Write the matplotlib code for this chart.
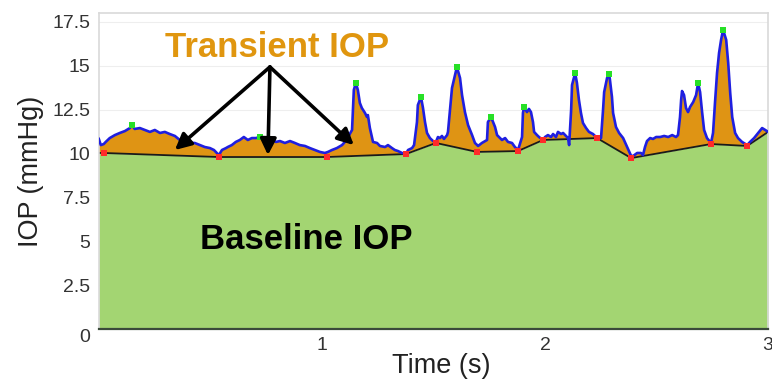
import numpy as np
import matplotlib
matplotlib.use("Agg")
import matplotlib.pyplot as plt

plt.rcParams["font.family"] = ["Liberation Sans", "DejaVu Sans"]

# ---------------------------------------------------------------- data
# IOP trace (mmHg) over 3 s
time_s = [
    0.000, 0.009, 0.022, 0.031, 0.049, 0.072, 0.094, 0.117, 0.139, 0.148,
    0.161, 0.184, 0.206, 0.229, 0.251, 0.274, 0.296, 0.318, 0.341, 0.363,
    0.386, 0.408, 0.430, 0.453, 0.475, 0.498, 0.516, 0.538, 0.552, 0.570,
    0.578, 0.596, 0.614, 0.632, 0.650, 0.668, 0.686, 0.704, 0.722, 0.740,
    0.758, 0.776, 0.794, 0.812, 0.834, 0.857, 0.879, 0.901, 0.924, 0.946,
    0.969, 0.991, 1.013, 1.027, 1.045, 1.067, 1.090, 1.103, 1.117, 1.135,
    1.139, 1.143, 1.152, 1.161, 1.170, 1.179, 1.193, 1.202, 1.206, 1.215,
    1.229, 1.247, 1.260, 1.283, 1.296, 1.314, 1.327, 1.341, 1.359, 1.377,
    1.386, 1.404, 1.413, 1.426, 1.430, 1.444, 1.453, 1.462, 1.471, 1.484,
    1.498, 1.511, 1.520, 1.529, 1.538, 1.547, 1.561, 1.565, 1.574, 1.583,
    1.605, 1.619, 1.628, 1.641, 1.655, 1.673, 1.686, 1.700, 1.717, 1.740,
    1.744, 1.758, 1.776, 1.785, 1.807, 1.821, 1.834, 1.852, 1.865, 1.879,
    1.897, 1.901, 1.906, 1.919, 1.928, 1.937, 1.946, 1.951, 1.964, 1.973,
    1.991, 2.000, 2.013, 2.027, 2.036, 2.049, 2.058, 2.072, 2.081, 2.094,
    2.103, 2.108, 2.117, 2.121, 2.135, 2.143, 2.152, 2.161, 2.170, 2.184,
    2.197, 2.215, 2.229, 2.233, 2.251, 2.260, 2.265, 2.278, 2.287, 2.291,
    2.300, 2.305, 2.318, 2.332, 2.350, 2.368, 2.386, 2.395, 2.413, 2.430,
    2.439, 2.448, 2.457, 2.471, 2.484, 2.498, 2.516, 2.534, 2.552, 2.570,
    2.587, 2.596, 2.605, 2.610, 2.614, 2.623, 2.632, 2.641, 2.650, 2.664,
    2.677, 2.686, 2.695, 2.704, 2.713, 2.726, 2.740, 2.744, 2.753, 2.762,
    2.771, 2.780, 2.789, 2.798, 2.812, 2.821, 2.830, 2.839, 2.852, 2.865,
    2.883, 2.906, 2.919, 2.937, 2.955, 2.973, 2.987, 3.000,
]
iop_mmhg = [
    10.83, 10.48, 10.54, 10.66, 10.88, 11.05, 11.17, 11.28, 11.45, 11.62,
    11.40, 11.45, 11.34, 11.23, 11.34, 11.17, 11.23, 11.11, 11.00, 10.77,
    10.66, 10.60, 10.60, 10.48, 10.37, 10.31, 10.20, 9.91, 10.20, 10.31,
    10.37, 10.48, 10.66, 10.77, 10.94, 10.77, 10.88, 10.88, 10.94, 10.77,
    10.66, 10.77, 10.66, 10.71, 10.60, 10.71, 10.60, 10.48, 10.43, 10.31,
    10.20, 10.09, 10.03, 10.09, 10.20, 10.31, 10.48, 10.66, 10.94, 11.34,
    12.48, 13.62, 14.02, 13.62, 12.88, 12.59, 12.31, 12.08, 12.19, 11.45,
    10.66, 10.60, 10.43, 10.37, 10.48, 10.31, 10.20, 10.14, 10.03, 9.97,
    10.20, 10.31, 10.48, 11.79, 12.76, 13.22, 12.59, 11.79, 11.17, 10.88,
    10.71, 10.66, 10.94, 10.88, 11.00, 10.83, 11.05, 11.23, 12.48, 13.73,
    14.93, 14.30, 13.33, 12.36, 11.62, 11.05, 10.60, 10.43, 10.60, 10.77,
    11.79, 12.08, 11.51, 11.05, 10.77, 10.88, 10.66, 10.60, 10.37, 10.20,
    10.94, 12.31, 12.65, 12.36, 12.54, 12.36, 11.79, 11.23, 11.05, 10.94,
    10.77, 10.94, 11.05, 10.94, 11.11, 10.94, 11.23, 11.11, 11.17, 11.00,
    10.88, 10.48, 12.48, 13.90, 14.59, 14.02, 13.05, 12.31, 11.74, 11.45,
    11.23, 11.11, 10.94, 10.88, 10.88, 12.48, 13.50, 14.30, 14.53, 14.19,
    13.22, 12.31, 11.51, 11.17, 10.88, 10.37, 9.86, 9.86, 10.03, 10.03,
    9.91, 10.37, 10.71, 10.88, 10.83, 10.94, 10.94, 11.00, 10.94, 11.05,
    10.94, 11.05, 12.08, 13.05, 13.56, 13.33, 12.59, 12.36, 12.65, 12.93,
    13.33, 14.02, 13.50, 12.36, 11.34, 10.88, 10.66, 10.60, 11.17, 12.93,
    14.59, 15.73, 16.47, 17.04, 16.47, 15.16, 13.45, 12.08, 11.17, 10.88,
    10.66, 10.48, 10.66, 10.88, 11.17, 11.45, 11.34, 11.23,
]

# baseline minima (red) and transient peaks (green)
minima_t = [0.022, 0.538, 1.022, 1.377, 1.511, 1.695, 1.879, 1.991, 2.233,
            2.386, 2.744, 2.906]
minima_v = [10.03, 9.80, 9.80, 9.97, 10.60, 10.09, 10.14, 10.77, 10.88,
            9.74, 10.54, 10.43]
peaks_t = [0.148, 0.722, 1.152, 1.444, 1.605, 1.758, 1.906, 2.135, 2.287,
           2.686, 2.798]
peaks_v = [11.62, 10.94, 14.02, 13.22, 14.93, 12.08, 12.65, 14.59, 14.53,
           14.02, 17.04]

# baseline polyline runs through the minima, from t=0 to the last sample
baseline_t = [0.0] + minima_t + [3.0]
baseline_v = [10.03] + minima_v + [11.23]

# annotation arrows for the transient label
arrow_from = (0.767, 14.93)
arrow_to = [(0.341, 10.20), (0.758, 9.91), (1.143, 10.48)]

GREEN_FILL = "#a3d572"
ORANGE_FILL = "#df9414"
TEXT_ORANGE = "#e0960f"

# ---------------------------------------------------------------- plot
fig = plt.figure(figsize=(7.72, 3.84), dpi=100)
ax = fig.add_axes([0.128, 0.143, 0.867, 0.823])

t = np.asarray(time_s)
v = np.asarray(iop_mmhg)
t_all = np.union1d(t, baseline_t)
sig = np.interp(t_all, t, v)
base = np.interp(t_all, baseline_t, baseline_v)

ax.fill_between(baseline_t, 0, baseline_v, color=GREEN_FILL, lw=0, zorder=1)
ax.fill_between(t_all, base, sig, where=sig >= base, interpolate=True,
                color=ORANGE_FILL, lw=0, zorder=1)
ax.plot(baseline_t, baseline_v, color="#1a1a1a", lw=1.3, zorder=2)
ax.plot(t, v, color="#1f1fe0", lw=1.9, zorder=3)
ax.scatter(minima_t, minima_v, marker="s", s=24, color="#ff2a2a", lw=0,
           zorder=4)
ax.scatter(peaks_t, peaks_v, marker="s", s=24, color="#27e027", lw=0,
           zorder=4)

for end in arrow_to:
    ax.annotate("", xy=end, xytext=arrow_from,
                arrowprops=dict(arrowstyle="-|>", color="black", lw=2.6,
                                mutation_scale=24, shrinkA=0, shrinkB=0),
                zorder=5)

ax.text(0.80, 16.05, "Transient IOP", color=TEXT_ORANGE, fontsize=25,
        fontweight="bold", ha="center", va="center", zorder=6)
ax.text(0.93, 5.1, "Baseline IOP", color="black", fontsize=25,
        fontweight="bold", ha="center", va="center", zorder=6)

ax.set_xlim(0, 3)
ax.set_ylim(0, 18)
ax.set_xticks([1, 2, 3])
ax.set_yticks([0, 2.5, 5, 7.5, 10, 12.5, 15, 17.5])
ax.set_yticklabels(["0", "2.5", "5", "7.5", "10", "12.5", "15", "17.5"])
ax.tick_params(axis="both", length=0, labelsize=14, labelcolor="#333333")
ax.tick_params(axis="x", pad=6)
ax.tick_params(axis="y", pad=6)
ax.get_yticklabels()[0].set_verticalalignment("top")

ax.yaxis.grid(True, color="#eeeeee", lw=0.8, zorder=0)
ax.set_axisbelow(True)
for side in ("top", "left", "right"):
    ax.spines[side].set_color("#d9d9d9")
    ax.spines[side].set_linewidth(1.2)
ax.spines["bottom"].set_color("#3a4a3a")
ax.spines["bottom"].set_linewidth(1.6)

ax.set_xlabel("Time (s)", fontsize=19.5, color="#222222", labelpad=-3)
ax.xaxis.set_label_coords(0.511, -0.075)
ax.set_ylabel("IOP (mmHg)", fontsize=19.5, color="#222222", labelpad=6)

fig.savefig("out.png", dpi=100)
